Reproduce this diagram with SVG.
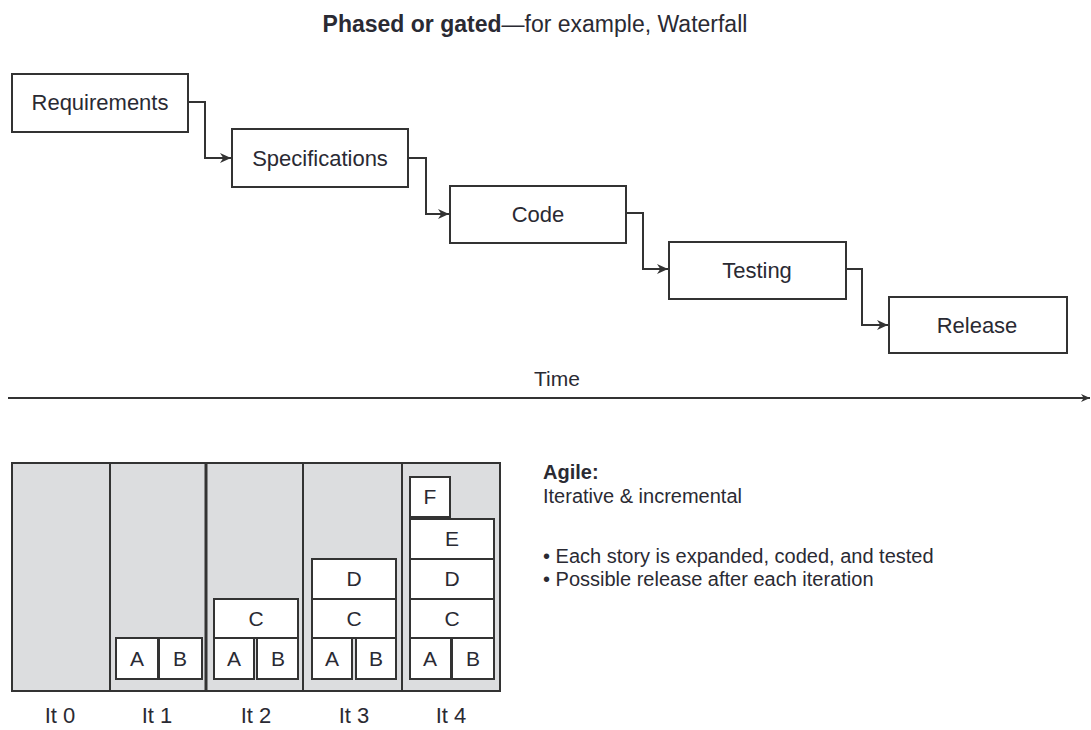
<svg xmlns="http://www.w3.org/2000/svg" width="1091" height="730" viewBox="0 0 1091 730">
<defs>
<style>
text{font-family:"Liberation Sans",Arial,sans-serif;fill:#2a2a33}
.phase{fill:#fff;stroke:#333;stroke-width:2}
.pl{font-size:22px;text-anchor:middle}
.conn{fill:none;stroke:#333;stroke-width:2}
.story{fill:#fff;stroke:#333;stroke-width:2}
.sl{font-size:21px;text-anchor:middle}
.it{font-size:22px;text-anchor:middle}
.ag{font-size:20px}
</style>
<marker id="arr" viewBox="0 0 10 10" refX="10" refY="5" markerWidth="11" markerHeight="11" markerUnits="userSpaceOnUse" orient="auto">
<path d="M0,0.5 L10,5 L0,9.5 L3,5 z" fill="#333"/>
</marker>
<marker id="arrT" viewBox="0 0 10 10" refX="10" refY="5" markerWidth="9" markerHeight="9" markerUnits="userSpaceOnUse" orient="auto">
<path d="M0,0.5 L10,5 L0,9.5 L3,5 z" fill="#333"/>
</marker>
</defs>
<rect width="1091" height="730" fill="#fff"/>

<text x="535" y="32" style="font-size:23px;text-anchor:middle"><tspan font-weight="bold">Phased or gated</tspan>—for example, Waterfall</text>

<g id="requirements"><rect class="phase" x="12" y="74" width="176" height="58"/><text class="pl" x="100" y="110">Requirements</text></g>
<g id="specifications"><rect class="phase" x="232" y="129" width="176" height="58"/><text class="pl" x="320" y="166">Specifications</text></g>
<g id="code"><rect class="phase" x="450" y="186" width="176" height="57"/><text class="pl" x="538" y="222">Code</text></g>
<g id="testing"><rect class="phase" x="669" y="242" width="177" height="57"/><text class="pl" x="757" y="278">Testing</text></g>
<g id="release"><rect class="phase" x="889" y="297" width="178" height="56"/><text class="pl" x="977" y="333">Release</text></g>

<g id="connectors">
<path class="conn" d="M188,102 H205 V158 H231" marker-end="url(#arr)"/>
<path class="conn" d="M408,158 H426 V214 H449" marker-end="url(#arr)"/>
<path class="conn" d="M626,213 H643 V269 H668" marker-end="url(#arr)"/>
<path class="conn" d="M846,269 H862 V325 H888" marker-end="url(#arr)"/>
</g>

<g id="time-axis">
<text x="557" y="386" style="font-size:21px;text-anchor:middle">Time</text>
<path d="M8,398 H1090" fill="none" stroke="#333" stroke-width="2" marker-end="url(#arrT)"/>
</g>

<g id="iterations">
<rect x="12" y="463" width="488" height="228" fill="#dcdddf" stroke="#333" stroke-width="2"/>
<line x1="110" y1="463" x2="110" y2="691" stroke="#333" stroke-width="2"/>
<line x1="206" y1="463" x2="206" y2="691" stroke="#333" stroke-width="3"/>
<line x1="303" y1="463" x2="303" y2="691" stroke="#333" stroke-width="2"/>
<line x1="402" y1="463" x2="402" y2="691" stroke="#333" stroke-width="2"/>
</g>

<g id="it1">
<rect class="story" x="116" y="638" width="42" height="41"/><text class="sl" x="137" y="666">A</text>
<rect class="story" x="159" y="638" width="43" height="41"/><text class="sl" x="180" y="666">B</text>
</g>
<g id="it2">
<rect class="story" x="214" y="599" width="84" height="39"/><text class="sl" x="256" y="626">C</text>
<rect class="story" x="214" y="638" width="40" height="41"/><text class="sl" x="234" y="666">A</text>
<rect class="story" x="257" y="638" width="41" height="41"/><text class="sl" x="278" y="666">B</text>
</g>
<g id="it3">
<rect class="story" x="312" y="559" width="84" height="40"/><text class="sl" x="354" y="586">D</text>
<rect class="story" x="312" y="599" width="84" height="39"/><text class="sl" x="354" y="626">C</text>
<rect class="story" x="312" y="638" width="40" height="41"/><text class="sl" x="332" y="666">A</text>
<rect class="story" x="356" y="638" width="40" height="41"/><text class="sl" x="376" y="666">B</text>
</g>
<g id="it4">
<rect class="story" x="410" y="477" width="40" height="40"/><text class="sl" x="430" y="504">F</text>
<rect class="story" x="410" y="519" width="84" height="40"/><text class="sl" x="452" y="546">E</text>
<rect class="story" x="410" y="559" width="84" height="40"/><text class="sl" x="452" y="586">D</text>
<rect class="story" x="410" y="599" width="84" height="39"/><text class="sl" x="452" y="626">C</text>
<rect class="story" x="410" y="638" width="41" height="41"/><text class="sl" x="430" y="666">A</text>
<rect class="story" x="452" y="638" width="42" height="41"/><text class="sl" x="473" y="666">B</text>
</g>

<g id="labels">
<text class="it" x="60" y="723">It 0</text>
<text class="it" x="157" y="723">It 1</text>
<text class="it" x="256" y="723">It 2</text>
<text class="it" x="354" y="723">It 3</text>
<text class="it" x="451" y="723">It 4</text>
</g>

<g id="agile-text">
<text class="ag" x="543" y="479" font-weight="bold">Agile:</text>
<text class="ag" x="543" y="503">Iterative &amp; incremental</text>
<text class="ag" x="543" y="563">• Each story is expanded, coded, and tested</text>
<text class="ag" x="543" y="586">• Possible release after each iteration</text>
</g>
</svg>
